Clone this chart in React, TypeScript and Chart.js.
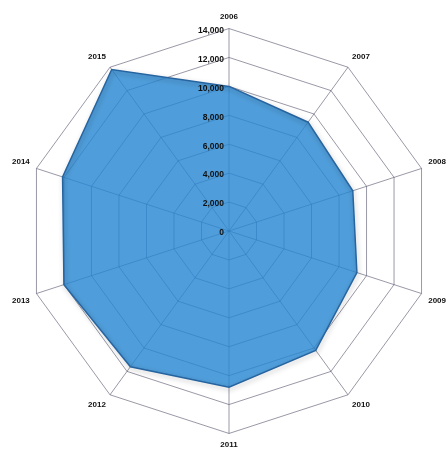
import React, { useEffect, useRef } from "react";
import { Chart, registerables } from "chart.js";

Chart.register(...registerables);

const years = ["2006", "2007", "2008", "2009", "2010", "2011", "2012", "2013", "2014", "2015"];
const values = [10000, 9300, 9000, 9300, 10200, 10800, 11600, 12000, 12100, 13800];
const tickValues = [0, 2000, 4000, 6000, 8000, 10000, 12000, 14000];

const tickLabelPlugin = {
  id: "tickLabelsLeft",
  afterDraw(chart: any) {
    const scale = chart.scales.r;
    const ctx = chart.ctx;
    ctx.save();
    ctx.font = "bold 8.5px Arial, 'Liberation Sans', sans-serif";
    ctx.fillStyle = "#111";
    ctx.textAlign = "right";
    ctx.textBaseline = "middle";
    for (const v of tickValues) {
      const d = scale.getDistanceFromCenterForValue(v);
      ctx.fillText(v.toLocaleString("en-US"), scale.xCenter - 5, scale.yCenter - d + 2);
    }
    ctx.restore();
  },
};

const shadowPlugin = {
  id: "areaShadow",
  beforeDatasetDraw(chart: any) {
    const ctx = chart.ctx;
    ctx.save();
    ctx.shadowColor = "rgba(0,0,0,0.3)";
    ctx.shadowBlur = 5;
    ctx.shadowOffsetX = 1;
    ctx.shadowOffsetY = 2;
  },
  afterDatasetDraw(chart: any) {
    chart.ctx.restore();
  },
};

export default function App() {
  const ref = useRef<HTMLCanvasElement>(null);
  useEffect(() => {
    if (!ref.current) return;
    const chart = new Chart(ref.current, {
      type: "radar",
      data: {
        labels: years,
        datasets: [
          {
            data: values,
            backgroundColor: "rgba(40,135,210,0.82)",
            borderColor: "rgb(38,100,160)",
            borderWidth: 1.5,
            pointRadius: 0,
            fill: true,
          },
        ],
      },
      options: {
        animation: false,
        responsive: false,
        maintainAspectRatio: false,
        layout: { padding: { top: 6, bottom: 1, left: 12, right: 2 } },
        plugins: { legend: { display: false }, tooltip: { enabled: false } },
        scales: {
          r: {
            min: 0,
            max: 14000,
            ticks: { stepSize: 2000, display: false },
            grid: { color: "rgba(70,70,95,0.55)", lineWidth: 1 },
            angleLines: { color: "rgba(70,70,95,0.55)", lineWidth: 1 },
            pointLabels: {
              font: { size: 8, weight: "bold", family: "Arial, 'Liberation Sans', sans-serif" },
              color: "#111",
              padding: 7,
            },
          },
        },
      },
      plugins: [shadowPlugin, tickLabelPlugin],
    });
    return () => chart.destroy();
  }, []);
  return (
    <div style={{ position: "fixed", left: 0, top: 0, width: 448, height: 458, background: "#fff" }}>
      <canvas ref={ref} width={448} height={458} style={{ display: "block" }} />
    </div>
  );
}
